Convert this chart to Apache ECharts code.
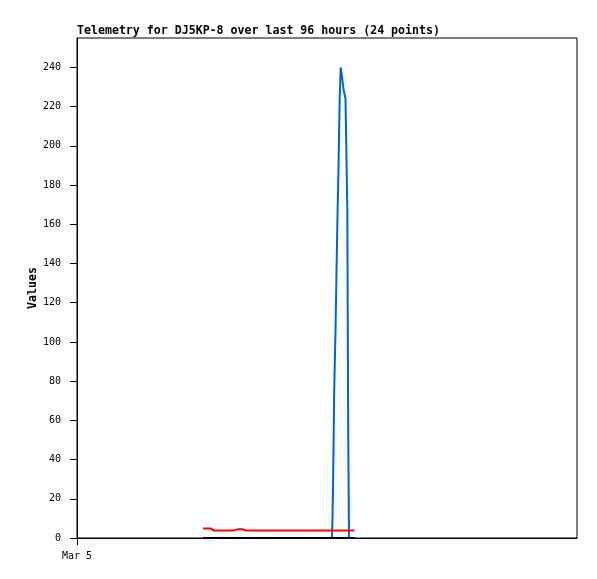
<!DOCTYPE html>
<html>
<head>
<meta charset="utf-8">
<script src="https://cdn.jsdelivr.net/npm/echarts@6/dist/echarts.min.js"></script>
<style>
html,body{margin:0;padding:0;background:#fff;}
#chart{width:597px;height:579px;}
</style>
</head>
<body>
<div id="chart"></div>
<script>
// hours since Mar 5 00:00 (axis spans 96 hours)
var hours = [24.19, 25.73, 26.30, 29.95, 30.91, 31.87, 32.45, 48.96, 49.09, 49.25, 49.38, 49.63, 49.82, 50.02, 50.25, 50.44, 50.63, 50.88, 51.17, 51.55, 51.90, 52.07, 52.22, 53.28];
var blueValues  = [0, 0, 0, 0, 0, 0, 0, 0, 15, 45, 75, 105, 135, 165, 195, 225, 240, 235, 229, 224, 168, 56, 0, 0];
var redValues   = [4.8, 4.8, 3.8, 3.8, 4.4, 4.4, 3.8, 3.8, 3.8, 3.8, 3.8, 3.8, 3.8, 3.8, 3.8, 3.8, 3.8, 3.8, 3.8, 3.8, 3.8, 3.8, 3.8, 3.8];
var blackValues = [0, 0, 0, 0, 0, 0, 0, 0, 0, 0, 0, 0, 0, 0, 0, 0, 0, 0, 0, 0, 0, 0, 0, 0];
var yTicks = [0, 20, 40, 60, 80, 100, 120, 140, 160, 180, 200, 220, 240];
var xTickLabels = {0: 'Mar 5'};

function pairs(vals) {
  return hours.map(function (h, i) { return [h, vals[i]]; });
}

var mono = '"DejaVu Sans Mono", "Liberation Mono", monospace';
var chart = echarts.init(document.getElementById('chart'), null, {renderer: 'canvas'});
chart.setOption({
  animation: false,
  backgroundColor: '#ffffff',
  title: {
    text: 'Telemetry for DJ5KP-8 over last 96 hours (24 points)',
    left: 77, top: 25, padding: 0,
    textStyle: {fontFamily: mono, fontSize: 11.6, fontWeight: 'bold', color: '#000'}
  },
  grid: {left: 77, top: 38, right: 20, bottom: 41, show: true, borderColor: '#000', borderWidth: 1, backgroundColor: '#fff'},
  xAxis: {
    type: 'value', min: 0, max: 96,
    axisLine: {show: true, lineStyle: {color: '#000', width: 1}},
    axisTick: {show: true, length: 7, lineStyle: {color: '#000'}, customValues: [0]},
    axisLabel: {
      customValues: [0], margin: 13, fontFamily: mono, fontSize: 10, color: '#000',
      formatter: function (v) { return xTickLabels[v] || ''; }
    },
    splitLine: {show: false}
  },
  yAxis: {
    type: 'value', min: 0, max: 255,
    name: 'Values', nameLocation: 'middle', nameRotate: 90, nameGap: 38, nameMoveOverlap: false,
    nameTextStyle: {fontFamily: mono, fontSize: 11.6, fontWeight: 'bold', color: '#000'},
    axisLine: {show: true, lineStyle: {color: '#000', width: 1}},
    axisTick: {show: true, length: 7, lineStyle: {color: '#000'}, customValues: yTicks},
    axisLabel: {customValues: yTicks, margin: 16, fontFamily: mono, fontSize: 10, color: '#000'},
    splitLine: {show: false}
  },
  series: [
    {type: 'line', data: pairs(blueValues), showSymbol: false, lineStyle: {color: '#0066cc', width: 2}, itemStyle: {color: '#0066cc'}},
    {type: 'line', data: pairs(redValues), showSymbol: false, lineStyle: {color: '#ff0000', width: 2}, itemStyle: {color: '#ff0000'}},
    {type: 'line', data: pairs(blackValues), showSymbol: false, lineStyle: {color: '#000000', width: 2}, itemStyle: {color: '#000000'}}
  ]
});
</script>
</body>
</html>
